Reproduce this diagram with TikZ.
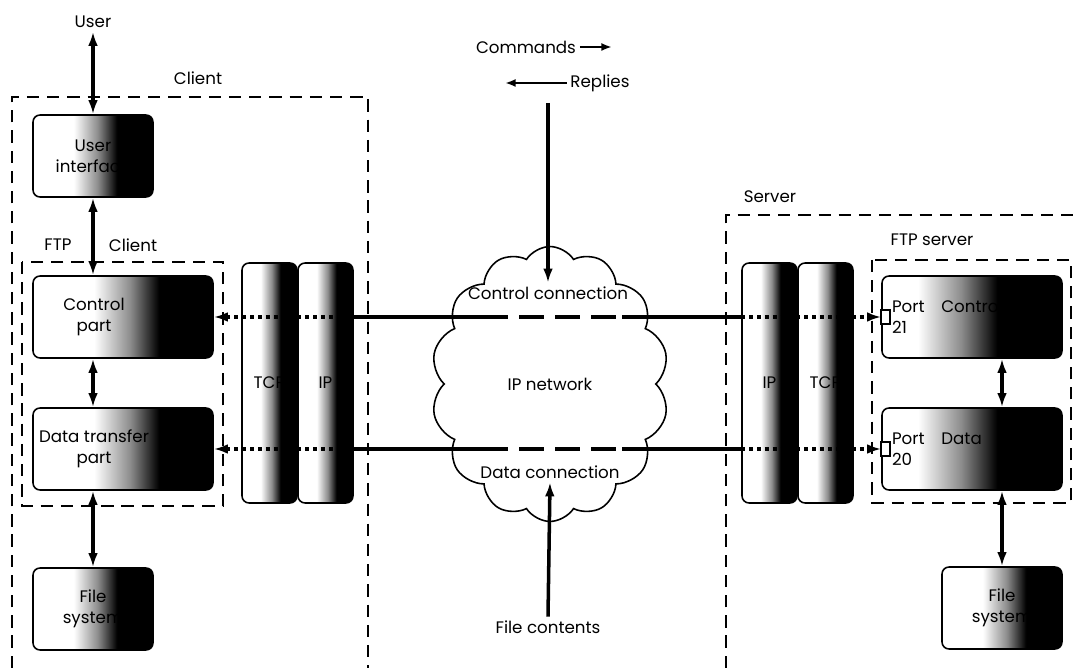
\documentclass[tikz,border=0pt]{standalone}
\usepackage{fontspec}
\setmainfont{Poppins}
\usetikzlibrary{arrows.meta, positioning, shapes.symbols}
\newcommand{\figfont}{\fontsize{9.5}{12}\selectfont}
\pgfdeclarehorizontalshading{boxfade}{100bp}{color(0bp)=(white); color(42bp)=(white); color(52bp)=(black!45); color(60bp)=(black); color(100bp)=(black)}
\pgfdeclarehorizontalshading{portfade}{100bp}{color(0bp)=(white); color(35bp)=(white); color(47bp)=(black!45); color(57bp)=(black); color(100bp)=(black)}
\tikzset{
  txt/.style={font=\figfont, align=center, inner sep=2pt},
  unit/.style={rectangle, rounded corners=4pt, draw, line width=0.9pt, shading=boxfade,
    font=\figfont, align=center, minimum width=2.4cm, minimum height=1.64cm},
  widebox/.style={unit, minimum width=3.6cm},
  portbox/.style={unit, shading=portfade, minimum width=3.6cm, text width=3.2cm, align=left},
  layer/.style={unit, minimum width=1.1cm, minimum height=4.8cm},
  group/.style={draw, line width=0.8pt, dash pattern=on 7pt off 4.5pt},
  link/.style={{Latex[length=8pt,width=5.5pt]}-{Latex[length=8pt,width=5.5pt]}, line width=2pt},
  conn/.style={line width=2pt},
  dotconn/.style={conn, dash pattern=on 2.2pt off 2.3pt},
  dashconn/.style={conn, dash pattern=on 14pt off 6.5pt},
  into/.style={-{Latex[length=8pt,width=5.5pt]}, line width=2pt},
  flow/.style={-{Latex[length=6pt,width=4.5pt]}, line width=1.6pt},
}
\begin{document}
\begin{tikzpicture}[x=0.02cm, y=-0.02cm]
  \useasboundingbox (0,0) rectangle (1076,668);

  % client side
  \draw[group] (12,668) -- (12,97) -- (368,97) -- (368,668);
  \draw[group] (22,262) rectangle (223,506);
  \node[txt] (user) at (93,22) {User};
  \node[txt] (clientlbl) at (198,78) {Client};
  \node[txt] (ftplbl) at (58,245) {FTP};
  \node[txt] (ftpclient) at (133,245) {Client};
  \node[unit] (ui) at (93,156) {User\\interface};
  \node[widebox, label={[txt, xshift=-0.58cm]center:Control\\part}] (ctl) at (123,317) {};
  \node[widebox, label={[txt, xshift=-0.58cm]center:Data transfer\\part}] (dtp) at (123,449) {};
  \node[unit] (cfs) at (93,609) {File\\system};
  \node[layer] (tcpc) at (269.5,383) {TCP};
  \node[layer] (ipc) at (325.5,383) {IP};

  % network
  \node[txt, cloud, cloud puffs=14, cloud puff arc=115, cloud ignores aspect, draw,
    line width=0.9pt, minimum width=4.75cm, minimum height=5.5cm] (net) at (550,384) {IP network};
  \node[txt] (ctrlconn) at (548,293) {Control connection};
  \node[txt] (dataconn) at (550,472) {Data connection};
  \node[txt] (files) at (548,627) {File contents};
  \node[txt] (cmds) at (526,47) {Commands};
  \node[txt] (replies) at (600,83) {Replies};
  \coordinate (cmdend) at (612,47);
  \coordinate (repend) at (505,83);
  \coordinate (ctrlin) at (548,103);
  \coordinate (dl) at (483,383);
  \coordinate (dr) at (622,383);

  % server side
  \draw[group] (726,668) -- (726,215) -- (1076,215);
  \draw[group] (872,260) rectangle (1071,503);
  \node[txt] (serverlbl) at (770,197) {Server};
  \node[txt] (ftpserver) at (932,240) {FTP server};
  \node[layer] (ips) at (769.5,383) {IP};
  \node[layer] (tcps) at (825.5,383) {TCP};
  \node[portbox] (p21) at (972,317) {Port\quad Control\\21};
  \node[portbox] (p20) at (972,449) {Port\quad Data\\20};
  \node[unit] (sfs) at (1002,608) {File\\system};
  \draw[fill=white, line width=0.9pt] (p21.west) ++(0,-7) rectangle ++(9,14);
  \draw[fill=white, line width=0.9pt] (p20.west) ++(0,-7) rectangle ++(9,14);

  % arrows
  \draw[link] (user) -- (ui);
  \draw[link] (ui) -- (ui |- ctl.north);
  \draw[link] (ctl.south -| ui) -- (dtp.north -| ui);
  \draw[link] (dtp.south -| cfs) -- (cfs);
  \draw[link] (p21.south -| sfs) -- (p20.north -| sfs);
  \draw[link] (p20.south -| sfs) -- (sfs);
  \draw[flow] (cmds.east) -- (cmdend);
  \draw[flow] (replies.west) -- (repend);
  \draw[into] (ctrlin) -- (ctrlconn.north);
  \draw[into] (files.north) -- (dataconn.south);

  % control connection
  \draw[dotconn, {Latex[length=8pt,width=5.5pt]}-] (ctl.east) -- (ctl.east -| ipc.east);
  \draw[conn] (ctl.east -| ipc.east) -- (ctl.east -| dl);
  \draw[dashconn] (ctl.east -| dl) -- (ctl.east -| dr);
  \draw[conn] (ctl.east -| dr) -- (ctl.east -| ips.west);
  \draw[dotconn, -{Latex[length=8pt,width=5.5pt]}] (ctl.east -| ips.west) -- (p21.west);

  % data connection
  \draw[dotconn, {Latex[length=8pt,width=5.5pt]}-] (dtp.east) -- (dtp.east -| ipc.east);
  \draw[conn] (dtp.east -| ipc.east) -- (dtp.east -| dl);
  \draw[dashconn] (dtp.east -| dl) -- (dtp.east -| dr);
  \draw[conn] (dtp.east -| dr) -- (dtp.east -| ips.west);
  \draw[dotconn, -{Latex[length=8pt,width=5.5pt]}] (dtp.east -| ips.west) -- (p20.west);
\end{tikzpicture}
\end{document}
